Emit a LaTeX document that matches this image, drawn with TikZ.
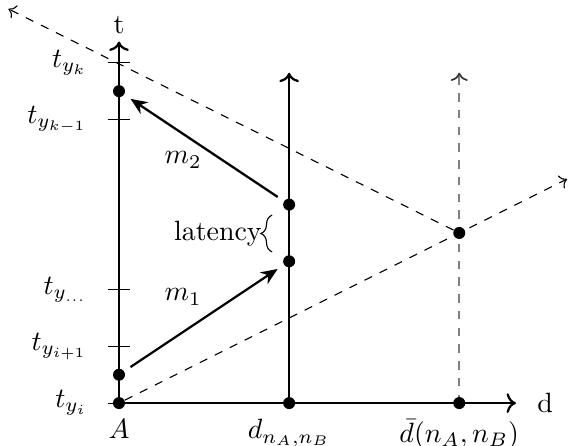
\documentclass[tikz,border=0pt]{standalone}
\usetikzlibrary{arrows.meta,decorations.pathreplacing}
\begin{document}
\begin{tikzpicture}[x=0.357cm,y=0.357cm,
  axis/.style={thick,->},
  dot/.style={circle,fill=black,inner sep=0pt,minimum size=4.3pt},
  msg/.style={thick,-{Stealth[length=6pt,width=5pt]},shorten >=2.6pt,shorten <=2.6pt},
  guide/.style={dashed,->},
  tickmark/.style={thin},
  ylab/.style={anchor=east}]
\useasboundingbox (-4.197,-1.48) rectangle (15.94,14.215);
% guide lines
\coordinate (g1) at (15.8,7.9);
\coordinate (g2) at (-3.9,13.9);
\coordinate (vtop) at (12,11.65);
\draw[dashed,semithick,gray,-{To[color=black!80]}] (12,0) -- (vtop);
% axes
\coordinate (O) at (0,0);
\coordinate (ttop) at (0,12.75);
\coordinate (dend) at (14,0);
\coordinate (mtop) at (6,11.65);
\draw[axis] (O) -- (ttop);
\draw[axis] (O) -- (dend);
\draw[axis] (6,0) -- (mtop);
% ticks
\foreach \y in {0,2,4,10,12} \draw[tickmark] (-0.4,\y) -- (0.4,\y);
% dots
\node[dot] (A) at (0,0) {};
\node[dot] (a1) at (0,1) {};
\node[dot] (a2) at (0,11) {};
\node[dot] (D) at (6,0) {};
\node[dot] (b1) at (6,5) {};
\node[dot] (b2) at (6,7) {};
\node[dot] (E) at (12,0) {};
\node[dot] (X) at (12,6) {};
\draw[guide] (A) -- (g1);
\draw[guide] (X) -- (g2);
% messages
\draw[msg] (a1) -- (b1);
\draw[msg] (b2) -- (a2);
\node (m1) at (2.26,3.74) {$m_1$};
\node (m2) at (2.26,8.57) {$m_2$};
% latency brace
\coordinate (br1) at (5.4,5.33);
\coordinate (br2) at (5.4,6.63);
\draw[decorate,decoration={brace,amplitude=4pt}] (br1) -- (br2);
\node[anchor=east,inner sep=1pt] (lat) at (5.15,5.98) {latency};
% labels
\node[below] (Al) at (A.south) {$A$};
\node[below] (Dl) at (D.south) {$d_{n_A,n_B}$};
\node[below] (El) at (E.south) {$\bar{d}(n_A,n_B)$};
\node (dl) at (15.03,0) {d};
\node (tl) at (0,13.33) {t};
\node[ylab] (l0) at (-0.78,0) {$t_{y_i}$};
\node[ylab] (l2) at (-0.78,2) {$t_{y_{i+1}}$};
\node[ylab] (l4) at (-0.78,4) {$t_{y_{\dots}}$};
\node[ylab] (l10) at (-0.78,10) {$t_{y_{k-1}}$};
\node[ylab] (l12) at (-0.78,12) {$t_{y_k}$};
\end{tikzpicture}
\end{document}
